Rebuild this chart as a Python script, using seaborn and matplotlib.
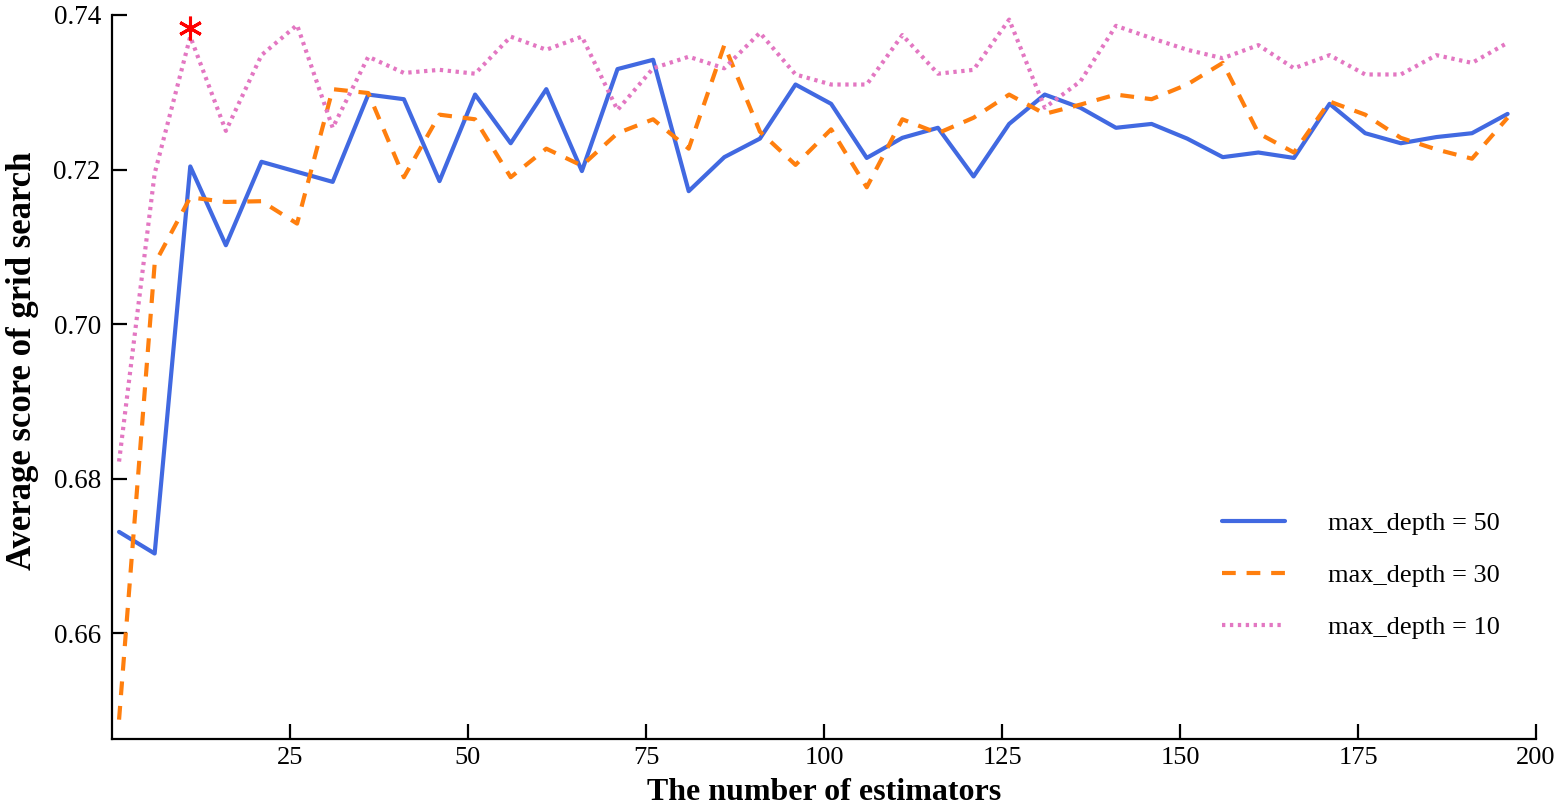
import matplotlib
matplotlib.use("Agg")
import matplotlib.pyplot as plt
import seaborn as sns
import pandas as pd

# ---- data ----
n_estimators = list(range(1, 200, 5))  # 1, 6, ..., 196

depth50 = [0.6731, 0.6703, 0.7204, 0.7102, 0.7210, 0.7197, 0.7184, 0.7297, 0.7291, 0.7185,
           0.7297, 0.7234, 0.7304, 0.7198, 0.7330, 0.7342, 0.7172, 0.7216, 0.7240, 0.7310,
           0.7285, 0.7215, 0.7241, 0.7254, 0.7191, 0.7259, 0.7297, 0.7280, 0.7254, 0.7259,
           0.7240, 0.7216, 0.7222, 0.7215, 0.7285, 0.7247, 0.7234, 0.7242, 0.7247, 0.7272]

depth30 = [0.6488, 0.7078, 0.7164, 0.7158, 0.7159, 0.7130, 0.7304, 0.7299, 0.7190, 0.7271,
           0.7265, 0.7190, 0.7227, 0.7205, 0.7247, 0.7265, 0.7227, 0.7361, 0.7249, 0.7206,
           0.7252, 0.7177, 0.7265, 0.7247, 0.7267, 0.7297, 0.7272, 0.7284, 0.7297, 0.7291,
           0.7310, 0.7338, 0.7247, 0.7222, 0.7288, 0.7271, 0.7241, 0.7226, 0.7214, 0.7267]

depth10 = [0.6822, 0.7195, 0.7372, 0.7250, 0.7348, 0.7387, 0.7254, 0.7346, 0.7325, 0.7329,
           0.7324, 0.7372, 0.7355, 0.7372, 0.7277, 0.7331, 0.7346, 0.7331, 0.7377, 0.7323,
           0.7310, 0.7310, 0.7374, 0.7324, 0.7329, 0.7394, 0.7280, 0.7314, 0.7386, 0.7370,
           0.7355, 0.7344, 0.7361, 0.7331, 0.7348, 0.7323, 0.7323, 0.7348, 0.7338, 0.7364]

labels = ["max_depth = 50", "max_depth = 30", "max_depth = 10"]
best_x = [11]
best_y = [0.7383]

x_ticks = [25, 50, 75, 100, 125, 150, 175, 200]
y_ticks = [0.66, 0.68, 0.70, 0.72, 0.74]

# ---- style ----
sns.set_style("ticks")
plt.rcParams["font.family"] = ["Liberation Serif", "DejaVu Serif"]
plt.rcParams["text.color"] = "black"
plt.rcParams["axes.labelcolor"] = "black"
plt.rcParams["xtick.color"] = "black"
plt.rcParams["ytick.color"] = "black"

fig = plt.figure(figsize=(15.59, 8.10), dpi=100)
ax = fig.add_axes([0.0718, 0.0877, 0.9853 - 0.0718, 0.9815 - 0.0877])

df50 = pd.DataFrame({"x": n_estimators, "y": depth50})
df30 = pd.DataFrame({"x": n_estimators, "y": depth30})
df10 = pd.DataFrame({"x": n_estimators, "y": depth10})

sns.lineplot(data=df50, x="x", y="y", ax=ax, color="#4169E1", lw=3,
             linestyle="-", label=labels[0])
sns.lineplot(data=df30, x="x", y="y", ax=ax, color="#FF7F0E", lw=3,
             linestyle=(0, (3.3, 2.6)), label=labels[1])
sns.lineplot(data=df10, x="x", y="y", ax=ax, color="#E377C2", lw=3,
             linestyle=(0, (0.8, 1.1)), label=labels[2])

ax.plot(best_x, best_y, linestyle="none", marker=(6, 2, 0), markersize=17,
        markeredgewidth=2.2, color="#FF0000", zorder=5)

ax.set_xlim(0, 200)
ax.set_ylim(0.6463, 0.74)
ax.set_xticks(x_ticks)
ax.set_xticklabels([str(t) for t in x_ticks])
ax.set_yticks(y_ticks)
ax.set_yticklabels([f"{t:.2f}" for t in y_ticks])

for s in ["top", "right"]:
    ax.spines[s].set_visible(False)
for s in ["left", "bottom"]:
    ax.spines[s].set_linewidth(1.6)
    ax.spines[s].set_color("black")

ax.tick_params(axis="both", direction="in", length=11, width=1.6, colors="black")
ax.tick_params(axis="y", pad=8, labelsize=19.5)
ax.tick_params(axis="x", pad=6, labelsize=19)

ax.set_xlabel("The number of estimators", fontsize=23, fontweight="bold", labelpad=6)
ax.set_ylabel("Average score of grid search", fontsize=25, fontweight="bold")
ax.yaxis.set_label_coords(-0.0515, 0.522)

leg = ax.legend(loc="upper left", bbox_to_anchor=(0.7795, 0.3135), frameon=False,
                fontsize=19, handlelength=2.4, handletextpad=1.6,
                labelspacing=1.07, borderpad=0, borderaxespad=0)

fig.savefig("out.png", dpi=100)
